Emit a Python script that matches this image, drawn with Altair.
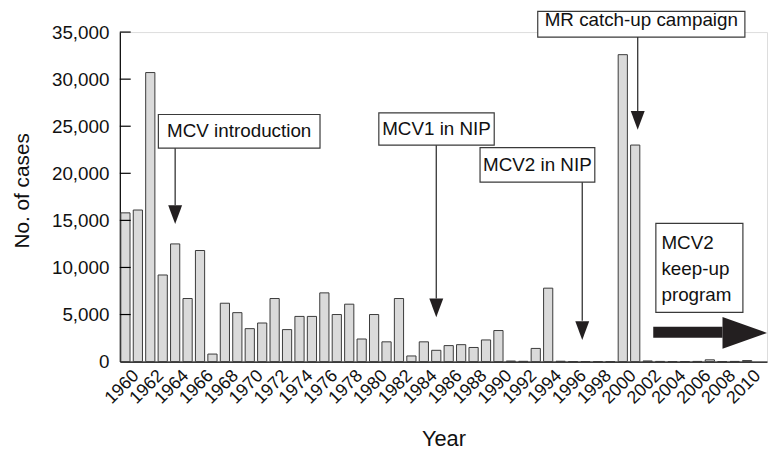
import altair as alt
import pandas as pd

FONT = "Liberation Sans"

years = list(range(1960, 2011))
cases = [15800, 16100, 30700, 9200, 12500, 6700, 11800, 800, 6200, 5200,
         3500, 4100, 6700, 3400, 4800, 4800, 7300, 5000, 6100, 2400,
         5000, 2100, 6700, 600, 2100, 1200, 1700, 1800, 1500, 2300,
         3300, 60, 30, 1400, 7800, 40, 10, 10, 5, 10,
         32600, 23000, 70, 20, 10, 10, 20, 190, 10, 20,
         110]

x_tick_values = list(range(1960, 2011, 2))
y_tick_values = [0, 5000, 10000, 15000, 20000, 25000, 30000, 35000]

# annotation boxes (data coordinates)
box_labels = ["MCV introduction", "MCV1 in NIP", "MCV2 in NIP", "MR catch-up campaign"]
box_x0 = [1962.65, 1980.38, 1988.52, 1993.16]
box_x1 = [1975.65, 1989.66, 1997.75, 2009.82]
box_y0 = [22670, 22990, 19055, 34470]
box_y1 = [26245, 26410, 22735, 37200]
text_x = [1969.15, 1985.02, 1993.13, 2001.49]
text_y = [24458, 24700, 20895, 36260]
arrow_x = [1964.0, 1985.0, 1996.74, 2001.2]
arrow_top = [22670, 22990, 19055, 34470]
arrow_bottom = [16600, 6700, 4340, 26590]
head_y = [15608, 5697, 3290, 25624]

keep_label = "MCV2\nkeep-up\nprogram"
keep_box = [2002.66, 2009.66, 5224, 14683]
keep_text_x = 2003.11
keep_text_y = 11950
big_shaft = [2002.45, 2008.02, 2522, 3710]
big_head = [2009.81, 3048]

xs = alt.Scale(domain=[1959.55, 2011.6], nice=False, zero=False)
ys = alt.Scale(domain=[0, 35000], nice=False, zero=False)

x_axis = alt.Axis(values=x_tick_values, format="d", labelAngle=315,
                  labelAlign="right", labelBaseline="top", labelOverlap=False,
                  ticks=False, tickSize=0, grid=False, labelPadding=5, labelOffset=4,
                  domainColor="#000000", domainWidth=1.2,
                  labelFontSize=18, titleFontSize=22, titlePadding=22,
                  titleFontWeight="normal", labelColor="#111111",
                  titleColor="#111111", labelFont=FONT, titleFont=FONT)
y_axis = alt.Axis(values=y_tick_values, format=",d", ticks=False, tickSize=0,
                  grid=False, labelPadding=11, domainColor="#000000",
                  domainWidth=1.2, labelFontSize=19, titleFontSize=21,
                  titlePadding=19, titleFontWeight="normal", titleY=160,
                  labelColor="#111111", titleColor="#111111",
                  labelFont=FONT, titleFont=FONT)


def X(field):
    return alt.X(field, type="quantitative", scale=xs, axis=x_axis, title="Year")


def Y(field):
    return alt.Y(field, type="quantitative", scale=ys, axis=y_axis, title="No. of cases")


df = pd.DataFrame({"year": years, "cases": cases})
bars = alt.Chart(df).transform_calculate(
    x0="datum.year - 0.37", x1="datum.year + 0.37"
).mark_bar(fill="#dadada", stroke="#3a3a3a", strokeWidth=1).encode(
    x=X("x0"), x2="x1:Q",
    y=Y("cases"), y2=alt.datum(0),
)

tick_df = pd.DataFrame({"v": y_tick_values[1:]})
ticks = alt.Chart(tick_df).mark_rule(color="#000000", strokeWidth=1.2).encode(
    y=Y("v"), x=alt.value(0), x2=alt.value(11),
)

ann = pd.DataFrame({
    "label": box_labels, "bx0": box_x0, "bx1": box_x1, "by0": box_y0, "by1": box_y1,
    "tx": text_x, "ty": text_y, "ax": arrow_x, "at": arrow_top, "ab": arrow_bottom,
    "hy": head_y,
})

boxes = alt.Chart(ann).mark_rect(fill="white", stroke="#3a3a3a", strokeWidth=1.2).encode(
    x=X("bx0"), x2="bx1:Q", y=Y("by0"), y2="by1:Q",
)
texts = alt.Chart(ann).mark_text(font=FONT, fontSize=19, color="#111111",
                                 align="center", baseline="middle").encode(
    x=X("tx"), y=Y("ty"), text="label:N",
)
shafts = alt.Chart(ann).mark_rule(color="#333333", strokeWidth=1.3).encode(
    x=X("ax"), y=Y("at"), y2="ab:Q",
)
heads = alt.Chart(ann).mark_point(
    shape="M-0.74,-1L0.74,-1L0,1Z", filled=True, fill="#231f20", strokeWidth=0,
    size=361, opacity=1,
).encode(
    x=X("ax"), y=Y("hy"),
)

keep_df = pd.DataFrame({"x0": [keep_box[0]], "x1": [keep_box[1]],
                        "y0": [keep_box[2]], "y1": [keep_box[3]],
                        "tx": [keep_text_x], "ty": [keep_text_y], "label": [keep_label],
                        "sx0": [big_shaft[0]], "sx1": [big_shaft[1]],
                        "sy0": [big_shaft[2]], "sy1": [big_shaft[3]],
                        "hx": [big_head[0]], "hy": [big_head[1]]})
keep_box_l = alt.Chart(keep_df).mark_rect(fill="white", stroke="#3a3a3a", strokeWidth=1.2).encode(
    x=X("x0"), x2="x1:Q", y=Y("y0"), y2="y1:Q",
)
keep_text = alt.Chart(keep_df).mark_text(font=FONT, fontSize=19, color="#111111",
                                         align="left", baseline="alphabetic",
                                         lineBreak="\n", lineHeight=26).encode(
    x=X("tx"), y=Y("ty"), text="label:N",
)
big_shaft_l = alt.Chart(keep_df).mark_rect(fill="#231f20").encode(
    x=X("sx0"), x2="sx1:Q", y=Y("sy0"), y2="sy1:Q",
)
big_head_l = alt.Chart(keep_df).mark_point(
    shape="M-1,-0.71L1,0L-1,0.71Z", filled=True, fill="#231f20", strokeWidth=0,
    size=2025, opacity=1,
).encode(
    x=X("hx"), y=Y("hy"),
)

chart = alt.layer(
    bars, ticks, boxes, texts, shafts, heads,
    keep_box_l, keep_text, big_shaft_l, big_head_l,
).properties(
    width=654, height=333,
    autosize=alt.AutoSizeParams(type="none"),
    padding={"left": 113, "top": 22, "right": 2, "bottom": 87},
    background="white",
).configure_view(strokeWidth=0, stroke="transparent").configure(font=FONT)

chart.save("out.html", embed_options={"renderer": "svg", "actions": False})
